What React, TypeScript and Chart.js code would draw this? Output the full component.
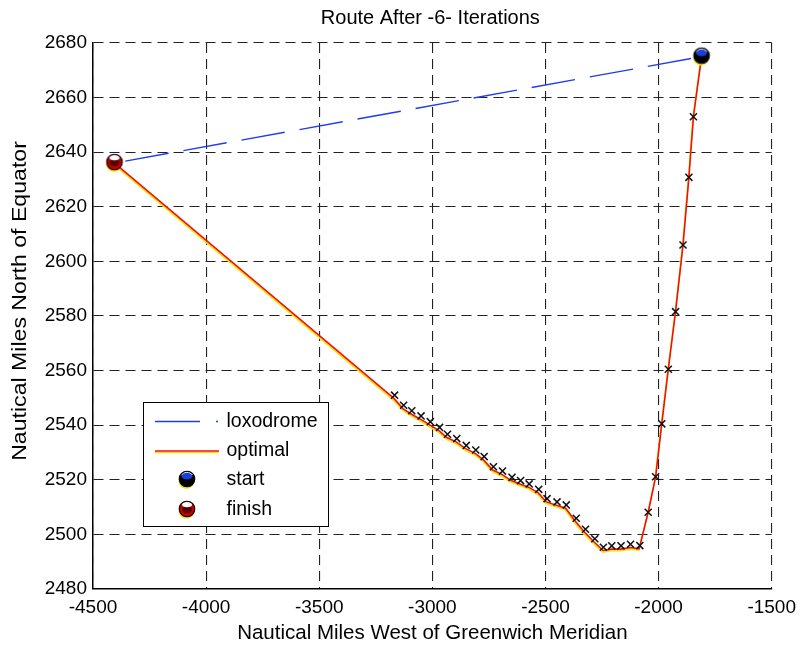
import React, { useEffect, useRef } from "react";
import { Chart, registerables } from "chart.js";
Chart.register(...registerables);

// ---- data ----
const titleText = "Route After -6- Iterations";
const xTitle = "Nautical Miles West of Greenwich Meridian";
const yTitle = "Nautical Miles North of Equator";

const xMin = -4500, xMax = -1500, xStep = 500;
const yMin = 2480, yMax = 2680, yStep = 20;

const loxoX = [-4405, -1810];
const loxoY = [2636, 2675];

const optX = [-4405, -3170, -3130, -3094, -3053, -3012, -2971, -2936, -2895, -2853, -2811, -2774, -2733, -2693, -2651, -2613, -2575, -2533, -2496, -2452, -2411, -2367, -2326, -2285, -2245, -2208, -2167, -2125, -2086, -2046, -2013, -1986, -1957, -1925, -1892, -1866, -1846, -1810];
const optY = [2636, 2549.8, 2546.1, 2544.1, 2542.2, 2540.1, 2538, 2535.5, 2533.9, 2531.4, 2529.7, 2527.3, 2523.6, 2522, 2519.7, 2518.5, 2517.3, 2515.3, 2511.9, 2510.7, 2509.6, 2504.7, 2500.7, 2497.2, 2494.1, 2494.6, 2494.6, 2495.2, 2494.7, 2508.1, 2521.1, 2540.5, 2560.5, 2581.6, 2606, 2630.8, 2653, 2675];

const iterX = [-3167, -3127, -3091, -3050, -3009, -2968, -2933, -2892, -2850, -2808, -2771, -2730, -2690, -2648, -2610, -2572, -2530, -2493, -2449, -2408, -2364, -2323, -2282, -2244, -2207, -2166, -2124, -2083, -2046, -2013, -1986, -1957, -1925, -1892, -1866, -1846];
const iterY = [2551, 2547.3, 2545.3, 2543.4, 2541.3, 2539.2, 2536.7, 2535.1, 2532.6, 2530.9, 2528.5, 2524.8, 2523.2, 2520.9, 2519.7, 2518.5, 2516.5, 2513.1, 2511.9, 2510.8, 2505.9, 2501.9, 2498.4, 2495.3, 2495.8, 2495.8, 2496.4, 2495.9, 2508.1, 2521.1, 2540.5, 2560.5, 2581.6, 2606, 2630.8, 2653];

const startX = [-1810];
const startY = [2675];
const finishX = [-4405];
const finishY = [2636];

const legendLabels = ["loxodrome", "optimal", "start", "finish"];

// ---- styles ----
const FONT = "'Liberation Sans', Arial, Helvetica, sans-serif";
const BLUE = "#1f3cf0";
const RED = "#f01010";
const YELLOW = "#f2e600";

function toPts(xs: number[], ys: number[]) {
  return xs.map((x, i) => ({ x, y: ys[i] }));
}

function makeMarker(kind: "start" | "finish"): HTMLCanvasElement {
  const c = document.createElement("canvas");
  c.width = 22;
  c.height = 24;
  const g = c.getContext("2d")!;
  const cx = 11, cy = 11, r = 7.8;
  g.fillStyle = YELLOW;
  g.beginPath();
  g.arc(cx - 0.6, cy + 2, r, 0, Math.PI * 2);
  g.fill();
  if (kind === "start") {
    g.fillStyle = "#000";
    g.beginPath();
    g.arc(cx, cy, r, 0, Math.PI * 2);
    g.fill();
    g.fillStyle = "#1d3fd8";
    g.beginPath();
    g.ellipse(cx, cy - 3, 5.6, 3.4, 0, 0, Math.PI * 2);
    g.fill();
    g.strokeStyle = "#fff";
    g.lineWidth = 1;
    g.beginPath();
    g.arc(cx, cy, r - 1, Math.PI * 1.2, Math.PI * 1.8);
    g.stroke();
  } else {
    g.fillStyle = "#c00000";
    g.beginPath();
    g.arc(cx, cy, r, 0, Math.PI * 2);
    g.fill();
    g.fillStyle = "#5a0000";
    g.beginPath();
    g.ellipse(cx, cy + 0.5, 5, 3.8, 0, 0, Math.PI * 2);
    g.fill();
    g.fillStyle = "#fff";
    g.beginPath();
    g.ellipse(cx, cy - 4.4, 5, 2.6, 0, 0, Math.PI * 2);
    g.fill();
  }
  g.strokeStyle = "#000";
  g.lineWidth = 1.1;
  g.beginPath();
  g.arc(cx, cy, r, 0, Math.PI * 2);
  g.stroke();
  return c;
}

export default function App() {
  const ref = useRef<HTMLCanvasElement | null>(null);

  useEffect(() => {
    document.body.style.margin = "0";
    const canvas = ref.current!;
    const startImg = makeMarker("start");
    const finishImg = makeMarker("finish");

    const shadowPlugin = {
      id: "optShadow",
      beforeDatasetDraw(chart: any, args: any) {
        if (args.meta.label === "optimal") {
          chart.ctx.save();
          chart.ctx.shadowColor = YELLOW;
          chart.ctx.shadowOffsetX = -0.5;
          chart.ctx.shadowOffsetY = 1.6;
          chart.ctx.shadowBlur = 0;
        }
      },
      afterDatasetDraw(chart: any, args: any) {
        if (args.meta.label === "optimal") chart.ctx.restore();
      },
    };

    const overlayPlugin = {
      id: "overlay",
      afterDraw(chart: any) {
        const ctx = chart.ctx;
        const ca = chart.chartArea;
        ctx.save();
        // title
        ctx.fillStyle = "#000";
        ctx.font = `20px ${FONT}`;
        ctx.textAlign = "center";
        ctx.textBaseline = "middle";
        ctx.fillText(titleText, (ca.left + ca.right) / 2 - 2, 18);

        // y axis title
        ctx.save();
        ctx.translate(20, 301);
        ctx.rotate(-Math.PI / 2);
        ctx.scale(1.1, 1);
        ctx.font = `21px ${FONT}`;
        ctx.fillText(yTitle, 0, 0);
        ctx.restore();

        // legend
        const lx = 143.5, ly = 402.5, lw = 185, lh = 124;
        ctx.fillStyle = "#fff";
        ctx.fillRect(lx, ly, lw, lh);
        ctx.strokeStyle = "#000";
        ctx.lineWidth = 1;
        ctx.strokeRect(lx, ly, lw, lh);
        const rows = [421.5, 451, 480, 510];
        // loxodrome sample
        ctx.strokeStyle = BLUE;
        ctx.lineWidth = 1.3;
        ctx.setLineDash([45, 16, 2, 100]);
        ctx.beginPath();
        ctx.moveTo(155, rows[0]);
        ctx.lineTo(219, rows[0]);
        ctx.stroke();
        ctx.setLineDash([]);
        // optimal sample
        ctx.strokeStyle = YELLOW;
        ctx.lineWidth = 1.5;
        ctx.beginPath();
        ctx.moveTo(154.5, rows[1] + 1.6);
        ctx.lineTo(218.5, rows[1] + 1.6);
        ctx.stroke();
        ctx.strokeStyle = RED;
        ctx.beginPath();
        ctx.moveTo(155, rows[1]);
        ctx.lineTo(219, rows[1]);
        ctx.stroke();
        ctx.drawImage(startImg, 187 - startImg.width / 2, rows[2] - startImg.height / 2);
        ctx.drawImage(finishImg, 187 - finishImg.width / 2, rows[3] - finishImg.height / 2);
        ctx.fillStyle = "#000";
        ctx.font = `19.5px ${FONT}`;
        ctx.textAlign = "left";
        ctx.textBaseline = "middle";
        legendLabels.forEach((t, i) => ctx.fillText(t, 226.5, rows[i]));
        ctx.restore();
      },
    };

    const chart = new Chart(canvas, {
      type: "scatter",
      data: {
        datasets: [
          {
            label: "finish",
            data: toPts(finishX, finishY),
            pointStyle: finishImg as any,
            pointRadius: 8,
            order: 0,
          },
          {
            label: "start",
            data: toPts(startX, startY),
            pointStyle: startImg as any,
            pointRadius: 8,
            order: 0,
          },
          {
            label: "iterations",
            data: toPts(iterX, iterY),
            pointStyle: "crossRot",
            pointRadius: 5,
            borderColor: "#111",
            borderWidth: 1.5,
            showLine: false,
            order: 1,
          },
          {
            label: "optimal",
            data: toPts(optX, optY),
            showLine: true,
            borderColor: RED,
            borderWidth: 1.6,
            pointRadius: 0,
            order: 2,
          },
          {
            label: "loxodrome",
            data: toPts(loxoX, loxoY),
            showLine: true,
            borderColor: BLUE,
            borderWidth: 1.4,
            borderDash: [44, 15],
            borderDashOffset: 48,
            pointRadius: 0,
            order: 3,
          },
        ],
      },
      options: {
        responsive: false,
        animation: false,
        events: [],
        layout: { padding: { top: 43, right: 27, left: 0, bottom: 0 } },
        plugins: {
          legend: { display: false },
          title: { display: false },
          tooltip: { enabled: false },
        },
        scales: {
          x: {
            type: "linear",
            min: xMin,
            max: xMax,
            afterFit: (s: any) => {
              s.height = 63;
            },
            ticks: {
              stepSize: xStep,
              color: "#000",
              font: { family: FONT, size: 19 },
              padding: 7,
              maxRotation: 0,
              callback: (v: any) => String(v),
            },
            grid: { color: "#222", lineWidth: 1.1, drawTicks: false },
            border: { display: true, color: "#000", width: 1.5, dash: [10, 6] },
            title: {
              display: true,
              text: xTitle,
              color: "#000",
              font: { family: FONT, size: 20.5 },
              padding: { top: 0, bottom: 6 },
            },
          },
          y: {
            type: "linear",
            min: yMin,
            max: yMax,
            afterFit: (s: any) => {
              s.width = 93;
            },
            ticks: {
              stepSize: yStep,
              color: "#000",
              font: { family: FONT, size: 19 },
              padding: 6,
              callback: (v: any) => String(v),
            },
            grid: { color: "#222", lineWidth: 1.1, drawTicks: false },
            border: { display: true, color: "#000", width: 1.5, dash: [10, 6] },
            title: { display: false },
          },
        },
      },
      plugins: [shadowPlugin, overlayPlugin],
    });
    return () => chart.destroy();
  }, []);

  return (
    <div style={{ width: 803, height: 652, background: "#fff" }}>
      <canvas ref={ref} width={803} height={652} style={{ display: "block" }} />
    </div>
  );
}
